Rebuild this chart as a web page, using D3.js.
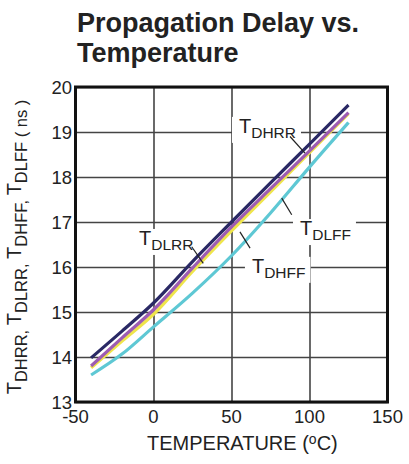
<!doctype html>
<html>
<head>
    <meta charset="utf-8">
    <script src="https://d3js.org/d3.v7.min.js"></script>
</head>
<style>
    body { margin: 0; background: #fff; }
    svg text { font-family: "Liberation Sans", Arial, sans-serif; fill: #222; }
</style>
<body>
    <div id="chart"></div>
    <script>
        // temperature points (degC) shared by all four curves
        var temps = [-40, -20, 0, 25, 50, 75, 100, 125];

        // propagation delay (ns)
        var tDHRR = [13.98, 14.58, 15.20, 16.12, 17.00, 17.87, 18.73, 19.60];
        var tDLRR = [13.80, 14.43, 15.05, 15.98, 16.89, 17.74, 18.58, 19.43];
        var tDHFF = [13.76, 14.36, 14.95, 15.90, 16.80, 17.67, 18.54, 19.41];
        var tDLFF = [13.60, 14.07, 14.67, 15.42, 16.25, 17.20, 18.22, 19.21];

        var xTicks = [-50, 0, 50, 100, 150];
        var yTicks = [13, 14, 15, 16, 17, 18, 19, 20];

        var width = 409,
            height = 464;

        var plotL = 75.5, plotR = 387.5, plotT = 87, plotB = 402;

        var x = d3.scaleLinear().domain([-50, 150]).range([plotL, plotR]);
        var y = d3.scaleLinear().domain([13, 20]).range([plotB, plotT]);

        var svg = d3.select("#chart")
                    .append("svg")
                    .attr("width", width)
                    .attr("height", height);

        // title
        var title = svg.append("text")
                       .attr("x", 77)
                       .attr("y", 32)
                       .attr("font-size", "27px")
                       .attr("font-weight", "bold");
        title.append("tspan").text("Propagation Delay vs.");
        title.append("tspan").attr("x", 77).attr("dy", 30).text("Temperature");

        // grid
        svg.append("g")
           .attr("transform", "translate(0," + plotB + ")")
           .call(d3.axisBottom(x).tickValues(xTicks).tickSize(-(plotB - plotT)).tickFormat(""))
           .call(function(g) {
               g.select(".domain").remove();
               g.selectAll("line").attr("stroke", "#444").attr("stroke-width", 1.6);
           });
        svg.append("g")
           .attr("transform", "translate(" + plotL + ",0)")
           .call(d3.axisLeft(y).tickValues(yTicks).tickSize(-(plotR - plotL)).tickFormat(""))
           .call(function(g) {
               g.select(".domain").remove();
               g.selectAll("line").attr("stroke", "#444").attr("stroke-width", 1.6);
           });

        // in-plot labels with leader lines
        var labels = [
            {t: 54.8, v: 18.98, sub: "DHRR", lead: [[87.5, 18.90], [97.1, 18.53]]},
            {t: 93.9, v: 16.71, sub: "DLFF", lead: [[88.6, 17.16], [82.2, 17.53]]},
            {t: 63.1, v: 15.87, sub: "DHFF", lead: [[61.9, 16.42], [55.4, 16.78]]},
            {t: -9.3, v: 16.49, sub: "DLRR", lead: [[24.5, 16.45], [31.9, 16.08]]}
        ];

        var bgLayer = svg.append("g");

        // curves
        var series = [
            {name: "DLFF", vals: tDLFF, color: "#5ec8d4"},
            {name: "DHFF", vals: tDHFF, color: "#efe54b"},
            {name: "DLRR", vals: tDLRR, color: "#9d5cb2"},
            {name: "DHRR", vals: tDHRR, color: "#2a2965"}
        ];

        var line = d3.line()
                     .x(function(d) { return x(d[0]); })
                     .y(function(d) { return y(d[1]); })
                     .curve(d3.curveMonotoneX);

        svg.selectAll("path.curve")
           .data(series)
           .enter()
           .append("path")
           .attr("class", "curve")
           .attr("fill", "none")
           .attr("stroke", function(d) { return d.color; })
           .attr("stroke-width", 3.2)
           .attr("d", function(d) {
               return line(temps.map(function(t, i) { return [t, d.vals[i]]; }));
           });

        // frame
        svg.append("rect")
           .attr("x", plotL)
           .attr("y", plotT)
           .attr("width", plotR - plotL)
           .attr("height", plotB - plotT)
           .attr("fill", "none")
           .attr("stroke", "#111")
           .attr("stroke-width", 3);

        labels.forEach(function(l) {
            var txt = svg.append("text")
                         .attr("x", x(l.t))
                         .attr("y", y(l.v));
            txt.append("tspan").attr("font-size", "20px").text("T");
            txt.append("tspan").attr("font-size", "15.5px").attr("dy", 5).text(l.sub);
            var bb = txt.node().getBBox();
            bgLayer.append("rect")
                   .attr("x", bb.x - 7)
                   .attr("y", bb.y + 2)
                   .attr("width", bb.width + 12)
                   .attr("height", bb.height)
                   .attr("fill", "#fff");
            svg.append("line")
               .attr("x1", x(l.lead[0][0]))
               .attr("y1", y(l.lead[0][1]))
               .attr("x2", x(l.lead[1][0]))
               .attr("y2", y(l.lead[1][1]))
               .attr("stroke", "#222")
               .attr("stroke-width", 1.2);
        });

        // tick labels
        svg.append("g")
           .selectAll("text")
           .data(yTicks)
           .enter()
           .append("text")
           .attr("x", 72)
           .attr("y", function(d) { return y(d); })
           .attr("dy", "0.36em")
           .attr("text-anchor", "end")
           .attr("font-size", "18.5px")
           .text(function(d) { return d; });

        svg.append("g")
           .selectAll("text")
           .data(xTicks)
           .enter()
           .append("text")
           .attr("x", function(d) { return x(d); })
           .attr("y", 423)
           .attr("text-anchor", "middle")
           .attr("font-size", "18.5px")
           .text(function(d) { return d; });

        // x axis title
        var xt = svg.append("text")
                    .attr("x", 147)
                    .attr("y", 450)
                    .attr("font-size", "20px");
        xt.append("tspan").text("TEMPERATURE (");
        xt.append("tspan").attr("font-size", "14px").attr("dy", -6).text("o");
        xt.append("tspan").attr("dy", 6).text("C)");

        // y axis title
        var yt = svg.append("text")
                    .attr("transform", "translate(27,247) rotate(-90)")
                    .attr("text-anchor", "middle")
                    .attr("font-size", "16.5px");
        ["DHRR", "DLRR", "DHFF", "DLFF"].forEach(function(s, i) {
            yt.append("tspan").attr("font-size", "20px").attr("dy", -6).text("T");
            yt.append("tspan").attr("dy", 6).text(s + (i < 3 ? ", " : " ( ns )"));
        });
    </script>
</body>
</html>
